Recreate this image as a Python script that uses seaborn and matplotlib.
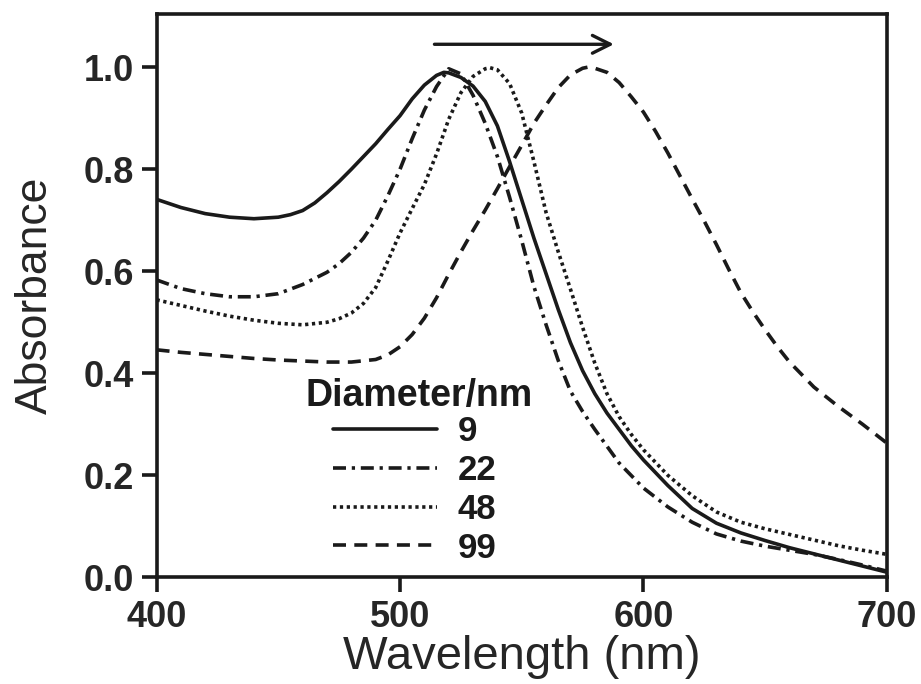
import pandas as pd
import matplotlib
matplotlib.use("Agg")
import matplotlib.pyplot as plt
import seaborn as sns

# absorbance spectra, one array per particle size
wl_9 = [400, 410, 420, 430, 440, 450, 455, 460, 465, 470, 475, 480, 485, 490, 495, 500,
        505, 510, 515, 518, 520, 525, 530, 535, 540, 545, 550, 555, 560, 565, 570, 575,
        580, 585, 590, 595, 600, 605, 610, 620, 630, 640, 650, 660, 670, 680, 690, 700]
abs_9 = [0.741, 0.725, 0.713, 0.706, 0.703, 0.706, 0.711, 0.719, 0.734, 0.754, 0.776, 0.800,
         0.825, 0.850, 0.878, 0.905, 0.938, 0.965, 0.984, 0.990, 0.989, 0.980, 0.963, 0.933,
         0.885, 0.815, 0.740, 0.665, 0.595, 0.525, 0.460, 0.405, 0.360, 0.322, 0.290, 0.258,
         0.230, 0.205, 0.180, 0.135, 0.106, 0.087, 0.072, 0.058, 0.046, 0.034, 0.022, 0.010]

wl_22 = [400, 410, 420, 430, 440, 450, 460, 470, 475, 480, 485, 490, 495, 500, 505, 510,
         515, 520, 525, 530, 535, 540, 545, 550, 555, 560, 565, 570, 575, 580, 590, 600,
         610, 620, 630, 640, 650, 660, 670, 680, 690, 700]
abs_22 = [0.583, 0.566, 0.556, 0.550, 0.550, 0.556, 0.574, 0.598, 0.615, 0.637, 0.665, 0.700,
          0.748, 0.800, 0.860, 0.916, 0.962, 0.997, 0.987, 0.945, 0.890, 0.825, 0.745, 0.660,
          0.570, 0.495, 0.425, 0.365, 0.325, 0.290, 0.224, 0.175, 0.138, 0.108, 0.085, 0.071,
          0.061, 0.053, 0.045, 0.035, 0.024, 0.012]

wl_48 = [400, 410, 420, 430, 440, 450, 460, 470, 475, 480, 485, 490, 495, 500, 505, 510,
         515, 520, 525, 530, 535, 537, 540, 545, 550, 555, 560, 565, 570, 575, 580, 585,
         590, 595, 600, 610, 620, 630, 640, 650, 660, 670, 680, 690, 700]
abs_48 = [0.544, 0.533, 0.522, 0.512, 0.504, 0.498, 0.495, 0.500, 0.507, 0.518, 0.537, 0.568,
          0.620, 0.675, 0.723, 0.770, 0.830, 0.898, 0.950, 0.982, 0.997, 0.999, 0.995, 0.968,
          0.910, 0.815, 0.715, 0.638, 0.565, 0.490, 0.420, 0.360, 0.315, 0.280, 0.250, 0.200,
          0.160, 0.128, 0.108, 0.095, 0.084, 0.073, 0.062, 0.053, 0.045]

wl_99 = [400, 410, 420, 430, 440, 450, 460, 470, 480, 490, 495, 500, 505, 510, 515, 520,
         525, 530, 535, 540, 545, 550, 555, 560, 565, 570, 575, 577, 580, 585, 590, 595,
         600, 605, 610, 615, 620, 625, 630, 635, 640, 645, 650, 655, 660, 670, 680, 690, 700]
abs_99 = [0.446, 0.441, 0.437, 0.433, 0.429, 0.426, 0.424, 0.422, 0.422, 0.427, 0.436, 0.452,
          0.476, 0.508, 0.548, 0.594, 0.638, 0.680, 0.720, 0.762, 0.805, 0.847, 0.890, 0.926,
          0.960, 0.985, 0.998, 1.000, 0.998, 0.990, 0.970, 0.942, 0.912, 0.874, 0.832, 0.787,
          0.742, 0.698, 0.652, 0.604, 0.558, 0.520, 0.485, 0.452, 0.422, 0.373, 0.335, 0.300,
          0.263]

sizes = ["9", "22", "48", "99"]

frames = []
for size, wl, ab in zip(sizes, [wl_9, wl_22, wl_48, wl_99], [abs_9, abs_22, abs_48, abs_99]):
    frames.append(pd.DataFrame({"wavelength": wl, "absorbance": ab, "Diameter": size}))
df = pd.concat(frames, ignore_index=True)

sns.set_style("ticks")
plt.rcParams["font.family"] = ["Liberation Sans", "DejaVu Sans"]

fig = plt.figure(figsize=(9.21, 6.84), dpi=100)
ax = fig.add_axes([0.170, 0.156, 0.793, 0.824])

line_dashes = {"9": "", "22": (3.6, 1.6, 0.9, 1.6), "48": (0.9, 1.0), "99": (3.6, 2.3)}
sns.lineplot(data=df, x="wavelength", y="absorbance", style="Diameter",
             style_order=sizes, dashes=line_dashes, color="#1a1a1a",
             linewidth=2.6, sort=False, estimator=None, ax=ax)

ax.set_xlim(400, 700)
ax.set_ylim(0, 1.105)
ax.set_xticks([400, 500, 600, 700])
ax.set_yticks([0.0, 0.2, 0.4, 0.6, 0.8, 1.0])
ax.set_yticklabels(["0.0", "0.2", "0.4", "0.6", "0.8", "1.0"])
ax.set_xlabel("Wavelength (nm)", fontsize=34, labelpad=0)
ax.set_ylabel("Absorbance", fontsize=32, labelpad=20)
ax.tick_params(axis="both", direction="out", length=11, width=2.6,
               labelsize=26, pad=5, color="#1a1a1a")
for lab in ax.get_xticklabels() + ax.get_yticklabels():
    lab.set_fontweight("bold")
for sp in ax.spines.values():
    sp.set_linewidth(2.6)
    sp.set_color("#1a1a1a")

# red-shift arrow
ax.annotate("", xy=(589, 1.045), xytext=(513, 1.045),
            arrowprops=dict(arrowstyle="->", lw=2.4, color="#1a1a1a", mutation_scale=32))

# legend, with its heading as a separate text so it can sit close to the entries
ax.text(0.36, 0.321, "Diameter/nm", transform=ax.transAxes, ha="center", va="center",
        fontsize=27, fontweight="bold", color="#1a1a1a")
handles, labels = ax.get_legend_handles_labels()
leg = ax.legend(handles, labels, frameon=False,
                loc="upper left", bbox_to_anchor=(0.2315, 0.3005),
                fontsize=25, handlelength=3.0, handletextpad=0.6,
                labelspacing=0.17, borderpad=0.2, borderaxespad=0)
for t in leg.get_texts():
    t.set_fontweight("bold")
    t.set_color("#1a1a1a")

fig.savefig("out.png", dpi=100)
